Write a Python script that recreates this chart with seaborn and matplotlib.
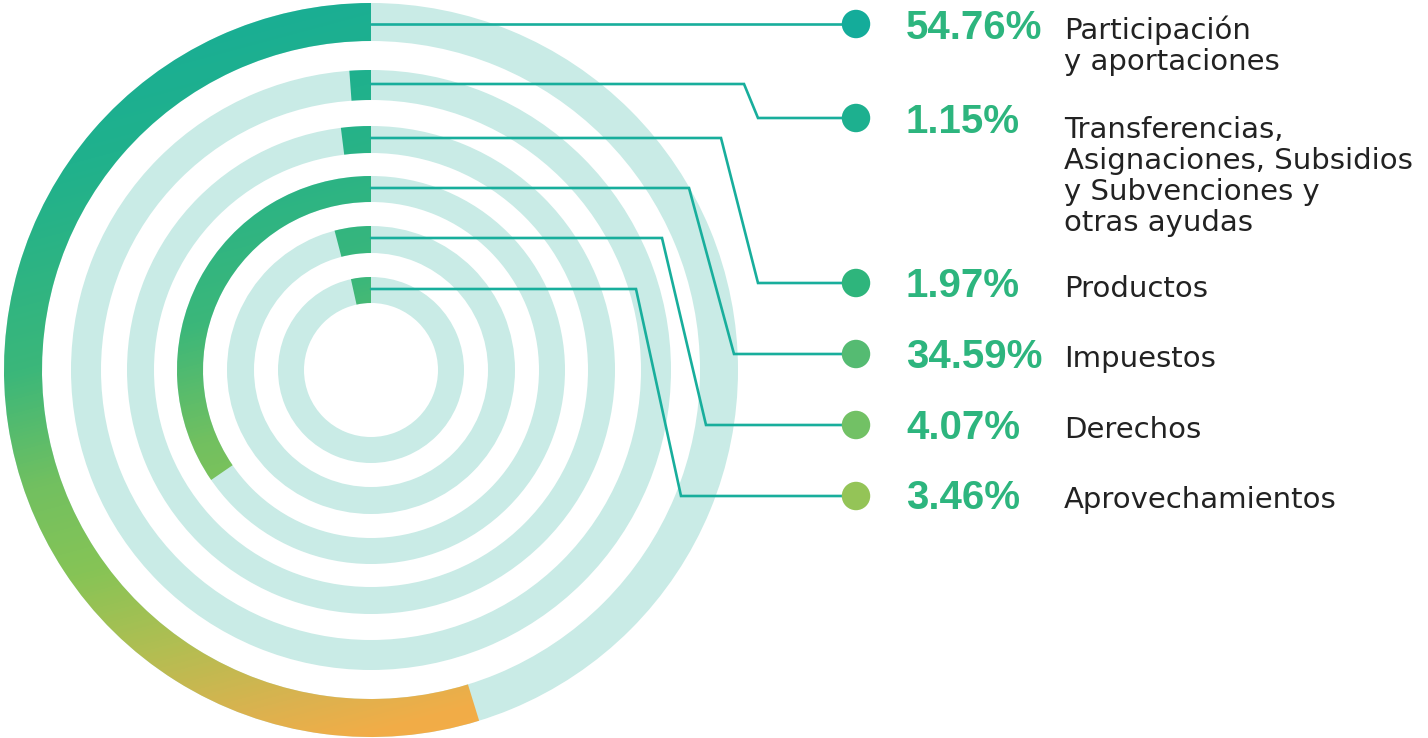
import numpy as np
import matplotlib
matplotlib.use("Agg")
import matplotlib.pyplot as plt
import seaborn as sns
from matplotlib.patches import Wedge
from matplotlib.colors import LinearSegmentedColormap

# ---- data ----
categories = [
    "Participación\ny aportaciones",
    "Transferencias,\nAsignaciones, Subsidios\ny Subvenciones y\notras ayudas",
    "Productos",
    "Impuestos",
    "Derechos",
    "Aprovechamientos",
]
shares = [54.76, 1.15, 1.97, 34.59, 4.07, 3.46]
dot_colors = ["#14AC9A", "#1DB08F", "#2EB57C", "#55BB72", "#72C165", "#94C457"]

# ---- layout (pixel space) ----
W, H = 1428, 738
cx, cy = 371, 370
ring_outer = [367, 300, 244, 194, 144, 93]
ring_width = [38, 30, 27, 26, 27, 26]
line_start_y = [24, 84, 138, 188, 238, 289]
bend_x = [856, 744, 721, 689, 662, 636]
diag_end_x = [856, 758, 758, 734, 706, 681]
row_y = [24, 118, 283, 354, 425, 496]
dot_x = 856
pct_x, label_x = 906, 1064
pct_base = [39, 133, 297, 368, 439, 509]
label_base = [38, 135, 297, 367, 438, 508]
line_gap = 32

track_color = "#C9EBE6"
line_color = "#18AE9C"
pct_color = "#2DB57E"
label_color = "#222222"

sns.set_theme(style="white")
plt.rcParams["font.family"] = ["DejaVu Sans"]

fig = plt.figure(figsize=(W / 100, H / 100), dpi=100)
ax = fig.add_axes([0, 0, 1, 1])
ax.set_axis_off()

# gradient image for coloured arcs
grad_cmap = LinearSegmentedColormap.from_list(
    "g",
    [(0.0, "#15AC9A"), (0.2, "#20B18C"), (0.415, "#3BB77A"),
     (0.55, "#72C060"), (0.66, "#86C456"), (0.77, "#B2BE52"),
     (0.87, "#DCB24F"), (0.925, "#F1AD48"), (1.0, "#F7AA47")])
yy, xx = np.mgrid[0:H, 0:760]
t = 0.82 * (yy - 3) / 734 + 0.22 * (xx - 4) / 734
t = np.clip(t, 0, 1)
grad_img = grad_cmap(t)

for i, share in enumerate(shares):
    r, w = ring_outer[i], ring_width[i]
    track = Wedge((cx, cy), r, 0, 360, width=w, facecolor=track_color,
                  edgecolor="none", zorder=1)
    ax.add_patch(track)
    ext = share / 100 * 360
    arc = Wedge((cx, cy), r, 270 - ext, 270, width=w, facecolor="none",
                edgecolor="none")
    ax.add_patch(arc)
    im = ax.imshow(grad_img, extent=(0, 760, H, 0), origin="upper",
                   zorder=2, interpolation="bilinear")
    im.set_clip_path(arc)

# leader lines
for i in range(len(shares)):
    xs = [cx, bend_x[i], diag_end_x[i], dot_x]
    ys = [line_start_y[i], line_start_y[i], row_y[i], row_y[i]]
    ax.plot(xs, ys, color=line_color, lw=1.9, zorder=3,
            solid_joinstyle="miter")

# dots
sns.scatterplot(x=[dot_x] * len(shares), y=row_y, hue=categories,
                palette=dot_colors, s=420, edgecolor="none", legend=False,
                ax=ax, zorder=4)

# texts
for i, share in enumerate(shares):
    ax.text(pct_x, pct_base[i], f"{share:.2f}%", fontsize=29,
            fontweight="bold", family=["Liberation Sans", "DejaVu Sans"],
            color=pct_color, ha="left", va="baseline")
    n_lines = categories[i].count("\n")
    ax.text(label_x, label_base[i] + n_lines * line_gap, categories[i],
            fontsize=21, color=label_color, ha="left", va="baseline",
            linespacing=1.14)

ax.set_xlim(0, W)
ax.set_ylim(H, 0)
fig.savefig("out.png", dpi=100, facecolor="white")
